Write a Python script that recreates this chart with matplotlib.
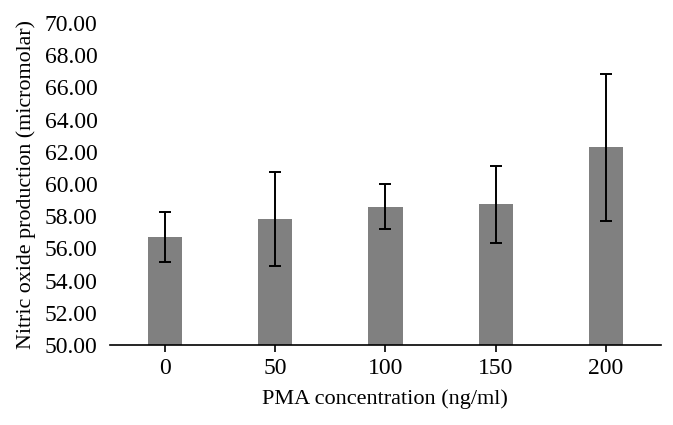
import numpy as np
import matplotlib
matplotlib.use("Agg")
import matplotlib.pyplot as plt

# values
doses = ["0", "50", "100", "150", "200"]
no_mean = [56.70, 57.83, 58.60, 58.75, 62.28]
no_err = [1.55, 2.93, 1.40, 2.40, 4.58]
y_ticks = [50, 52, 54, 56, 58, 60, 62, 64, 66, 68, 70]

plt.rcParams['font.family'] = ['Liberation Serif', 'DejaVu Serif']

fig = plt.figure(figsize=(6.73, 4.25), dpi=100)
ax = fig.add_axes([0.1634, 0.188, 0.8186, 0.758])

x = np.arange(len(doses))
ax.bar(x, no_mean, width=0.31, color='#808080', zorder=2)
ax.errorbar(x, no_mean, yerr=no_err, fmt='none', ecolor='black',
            elinewidth=1.4, capsize=4, capthick=1.4, zorder=3)

ax.set_xlim(-0.5, 4.5)
ax.set_ylim(50, 70)
ax.set_yticks(y_ticks)
ax.set_yticklabels([f"{v:.2f}" for v in y_ticks])
ax.set_xticks(x)
ax.set_xticklabels(doses)

for s in ['top', 'right', 'left']:
    ax.spines[s].set_visible(False)
ax.spines['bottom'].set_linewidth(1.2)
ax.tick_params(axis='y', length=0, labelsize=17, pad=9)
ax.tick_params(axis='x', length=5, width=1.2, labelsize=17, pad=4)

ax.set_xlabel("PMA concentration (ng/ml)", fontsize=16, labelpad=8)
ax.set_ylabel("Nitric oxide production (micromolar)", fontsize=15.8, labelpad=6)

fig.savefig("out.png", dpi=100)
